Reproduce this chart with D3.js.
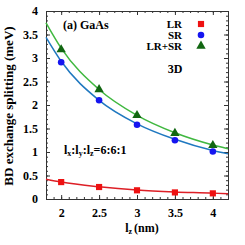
<!DOCTYPE html>
<html>
<head>
<meta charset="utf-8">
<script src="https://cdn.jsdelivr.net/npm/d3@7"></script>
<style>
  body { margin: 0; background: #fff; }
  text { font-family: "Liberation Serif", "DejaVu Serif", serif; font-weight: bold; }
</style>
</head>
<body>
<svg id="chart" width="245" height="245"></svg>
<script>
// données
var lz = [2, 2.5, 3, 3.5, 4];
var lr = [0.36, 0.255, 0.185, 0.14, 0.12];
var sr = [2.91, 2.1, 1.58, 1.25, 1.01];
var lrsr = [3.18, 2.33, 1.78, 1.40, 1.14];

// courbes d'ajustement (échantillons lus)
var fitX = [1.8, 2, 2.5, 3, 3.5, 4, 4.2];
var fitLR = [0.42, 0.36, 0.26, 0.19, 0.15, 0.125, 0.11];
var fitSR = [3.44, 2.93, 2.10, 1.60, 1.27, 1.03, 0.96];
var fitLRSR = [3.75, 3.21, 2.33, 1.78, 1.41, 1.15, 1.07];

var xTicks = [2, 2.5, 3, 3.5, 4];
var yTicks = [0, 0.5, 1, 1.5, 2, 2.5, 3, 3.5, 4];

var margin = {top: 11, right: 17, bottom: 46, left: 46};
var width = 245 - margin.left - margin.right;
var height = 245 - margin.top - margin.bottom;

var svg = d3.select('#chart');
var g = svg.append('g').attr('transform', `translate(${margin.left},${margin.top})`);

var x = d3.scaleLinear().domain([1.8, 4.2]).range([0, width]);
var y = d3.scaleLinear().domain([0, 4]).range([height, 0]);

// ticks mineurs
var xMinor = d3.range(1.8, 4.21, 0.1);
var yMinor = d3.range(0, 4.01, 0.1);

function tickAxis(axis, ticks, size, fmt){
  return axis.tickValues(ticks).tickSize(size).tickFormat(fmt);
}

g.append('g').attr('transform', `translate(0,${height})`)
  .call(tickAxis(d3.axisBottom(x), xMinor, -2, ''));
g.append('g').call(tickAxis(d3.axisTop(x), xMinor, -2, ''));
g.append('g').call(tickAxis(d3.axisLeft(y), yMinor, -2, ''));
g.append('g').attr('transform', `translate(${width},0)`)
  .call(tickAxis(d3.axisRight(y), yMinor, -2, ''));

g.append('g').attr('transform', `translate(0,${height})`)
  .call(d3.axisBottom(x).tickValues(xTicks).tickSize(-4).tickPadding(9).tickFormat(d3.format('')));
g.append('g').call(d3.axisTop(x).tickValues(xTicks).tickSize(-4).tickFormat(''));
g.append('g')
  .call(d3.axisLeft(y).tickValues(yTicks).tickSize(-4).tickPadding(8).tickFormat(d3.format('')));
g.append('g').attr('transform', `translate(${width},0)`)
  .call(d3.axisRight(y).tickValues(yTicks).tickSize(-4).tickFormat(''));

g.selectAll('.domain').attr('stroke', '#333');
g.selectAll('.tick line').attr('stroke', '#333');
g.selectAll('.tick text').attr('fill', '#000').style('font-size', '12px')
  .style('font-family', '"Liberation Serif", serif').style('font-weight', 'bold');

// courbes
var line = d3.line().x(function(d){ return x(d[0]); }).y(function(d){ return y(d[1]); })
  .curve(d3.curveMonotoneX);
function fit(vals){ return fitX.map(function(v, i){ return [v, vals[i]]; }); }

g.append('path').datum(fit(fitLR)).attr('d', line)
  .attr('fill', 'none').attr('stroke', '#dd1f26').attr('stroke-width', 1.5);
g.append('path').datum(fit(fitSR)).attr('d', line)
  .attr('fill', 'none').attr('stroke', '#1f78c0').attr('stroke-width', 1.5);
g.append('path').datum(fit(fitLRSR)).attr('d', line)
  .attr('fill', 'none').attr('stroke', '#40b840').attr('stroke-width', 1.5);

// points
var sq = d3.symbol().type(d3.symbolSquare).size(38);
var ci = d3.symbol().type(d3.symbolCircle).size(34);
var tr = d3.symbol().type(d3.symbolTriangle).size(38);

function points(vals, sym, col){
  g.append('g').selectAll('path').data(vals).enter().append('path')
    .attr('d', sym)
    .attr('transform', function(d, i){ return `translate(${x(lz[i])},${y(d)})`; })
    .attr('fill', col);
}
points(lr, sq, '#ee1111');
points(sr, ci, '#1515f0');
points(lrsr, tr, '#116611');

// légende
var legend = [['LR', sq, '#ee1111'], ['SR', ci, '#1515f0'], ['LR+SR', tr, '#116611']];
legend.forEach(function(l, i){
  svg.append('text').attr('x', 182).attr('y', 28 + i * 11).attr('text-anchor', 'end')
    .style('font-size', '11px').text(l[0]);
  svg.append('path').attr('d', l[1]).attr('fill', l[2])
    .attr('transform', `translate(201,${24 + i * 11})`);
});

svg.append('text').attr('x', 175).attr('y', 73).attr('text-anchor', 'middle')
  .style('font-size', '12px').text('3D');
svg.append('text').attr('x', 63).attr('y', 29).style('font-size', '12px').text('(a) GaAs');

var ratio = svg.append('text').attr('x', 64).attr('y', 154).style('font-size', '12px');
ratio.append('tspan').text('l');
ratio.append('tspan').attr('baseline-shift', '-30%').style('font-size', '8px').text('x');
ratio.append('tspan').text(':l');
ratio.append('tspan').attr('baseline-shift', '-30%').style('font-size', '8px').text('y');
ratio.append('tspan').text(':l');
ratio.append('tspan').attr('baseline-shift', '-30%').style('font-size', '8px').text('z');
ratio.append('tspan').text('=6:6:1');

// titres des axes
var xt = svg.append('text').attr('x', 142).attr('y', 232).attr('text-anchor', 'middle')
  .style('font-size', '12px');
xt.append('tspan').text('l');
xt.append('tspan').attr('baseline-shift', '-30%').style('font-size', '8px').text('z');
xt.append('tspan').attr('dx', 2).text('(nm)');

svg.append('text').attr('transform', `translate(13,${margin.top + height / 2 + 1}) rotate(-90)`)
  .attr('text-anchor', 'middle').style('font-size', '13px')
  .text('BD exchange splitting (meV)');
</script>
</body>
</html>
